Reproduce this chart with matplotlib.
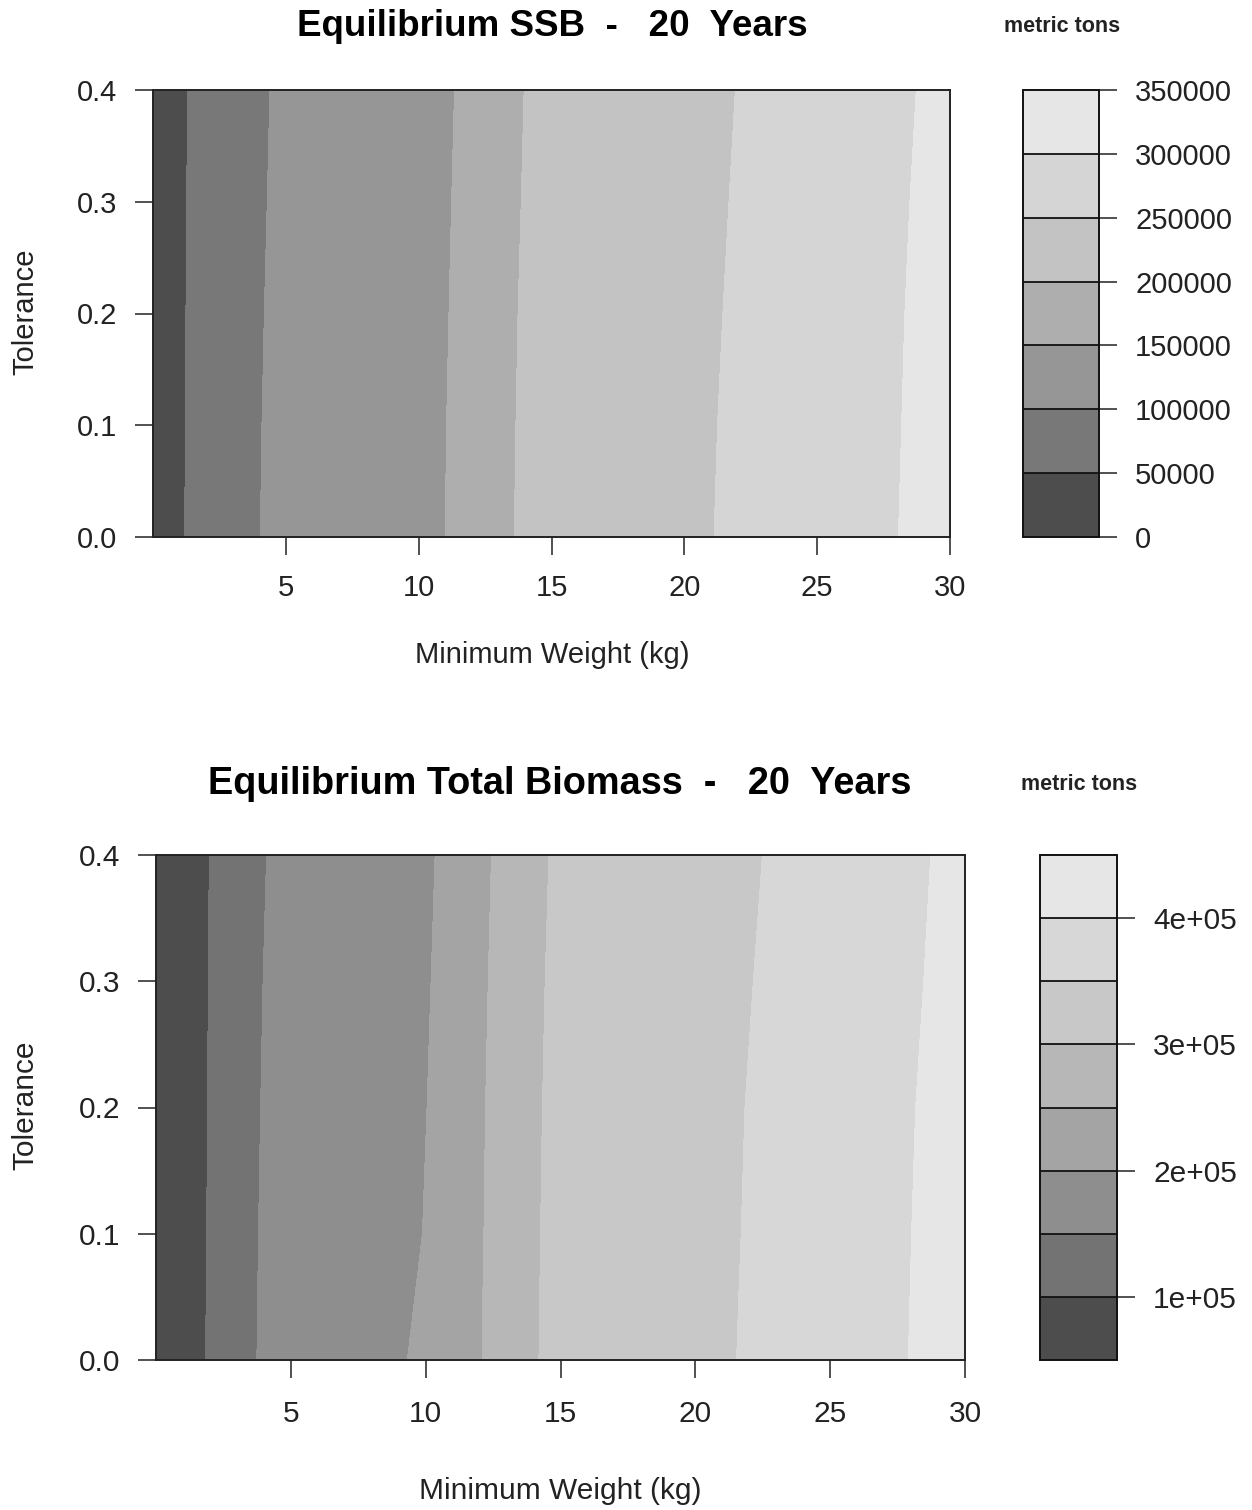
import numpy as np
import matplotlib
matplotlib.use("Agg")
import matplotlib.pyplot as plt
from matplotlib.ticker import FuncFormatter

plt.rcParams['font.family'] = ['Liberation Sans', 'DejaVu Sans']

W, H = 1252, 1510

# ---- data ----
# x position (kg) where each contour level is crossed, per tolerance row
tol_ssb = [0.0, 0.1, 0.2, 0.3, 0.4]
ssb_cross = [
    [1.20, 4.04, 11.00, 13.60, 21.12, 28.06],
    [1.21, 4.10, 11.05, 13.66, 21.25, 28.18],
    [1.24, 4.19, 11.14, 13.74, 21.45, 28.30],
    [1.27, 4.30, 11.24, 13.86, 21.68, 28.49],
    [1.30, 4.40, 11.35, 13.97, 21.92, 28.73],
]
ssb_levels = [0, 50000, 100000, 150000, 200000, 250000, 300000, 350000]
ssb_edge = [20000, 330000]
ssb_ticks = [0, 50000, 100000, 150000, 200000, 250000, 300000, 350000]
ssb_colors = ['#4d4d4d', '#787878', '#969696', '#aeaeae',
              '#c3c3c3', '#d5d5d5', '#e6e6e6']

tol_tb = [0.0, 0.05, 0.1, 0.2, 0.3, 0.4]
tb_cross = [
    [1.84, 3.74, 9.32, 12.09, 14.20, 21.53, 27.90],
    [1.86, 3.77, 9.60, 12.12, 14.23, 21.61, 27.96],
    [1.88, 3.80, 9.88, 12.16, 14.26, 21.70, 28.02],
    [1.91, 3.88, 10.05, 12.22, 14.33, 21.84, 28.17],
    [1.94, 3.97, 10.20, 12.32, 14.43, 22.15, 28.47],
    [1.975, 4.10, 10.35, 12.44, 14.57, 22.49, 28.73],
]
tb_levels = [50000, 100000, 150000, 200000, 250000, 300000, 350000, 400000, 450000]
tb_edge = [70000, 430000]
tb_ticks = [100000, 200000, 300000, 400000]
tb_colors = ['#4d4d4d', '#737373', '#8e8e8e', '#a4a4a4',
             '#b7b7b7', '#c8c8c8', '#d7d7d7', '#e6e6e6']

x_range = [0, 30]


def px_rect(l, t, r, b):
    return [l / W, 1 - b / H, (r - l) / W, (b - t) / H]


def build_grid(tols, cross, levels, edge):
    cross = np.asarray(cross, dtype=float)
    n = len(tols)
    X = np.column_stack([np.full(n, x_range[0]), cross, np.full(n, x_range[1])])
    Y = np.repeat(np.asarray(tols, dtype=float)[:, None], X.shape[1], axis=1)
    zrow = [edge[0]] + list(levels[1:1 + cross.shape[1]]) + [edge[1]]
    Z = np.tile(np.asarray(zrow, dtype=float), (n, 1))
    return X, Y, Z


def panel(fig, rect, crect, tols, cross, levels, edge, colors, ticks, fmt,
          title, tcx, tcy, mcx, ylab_y, xlab_y, xpad, fs, tfs):
    ax = fig.add_axes(px_rect(*rect))
    X, Y, Z = build_grid(tols, cross, levels, edge)
    cs = ax.contourf(X, Y, Z, levels=levels, colors=colors)
    ax.set_xlim(x_range)
    ax.set_ylim(0, 0.4)
    ax.set_xticks([5, 10, 15, 20, 25, 30])
    ax.set_yticks([0.0, 0.1, 0.2, 0.3, 0.4])
    ax.yaxis.set_major_formatter(FuncFormatter(lambda v, p: f"{v:.1f}"))
    ax.tick_params(axis='x', direction='out', length=13, width=1.1,
                   labelsize=fs, pad=xpad, colors='#222222')
    ax.tick_params(axis='y', direction='out', length=13, width=1.1,
                   labelsize=fs, pad=13, colors='#222222')
    for s in ax.spines.values():
        s.set_linewidth(1.4)
        s.set_color('#222222')

    cax = fig.add_axes(px_rect(*crect))
    cb = fig.colorbar(cs, cax=cax)
    cb.set_ticks(ticks)
    cb.ax.yaxis.set_major_formatter(FuncFormatter(fmt))
    for lv in levels[1:-1]:
        cax.axhline(lv, color='#111111', lw=1.3)
    cb.outline.set_linewidth(1.4)
    cb.outline.set_edgecolor('#111111')
    cax.tick_params(axis='y', right=True, left=False, direction='out',
                    length=13, width=1.1, labelsize=fs, pad=13,
                    colors='#222222')

    fig.text(tcx / W, 1 - tcy / H, title, ha='center', va='center',
             fontsize=tfs, fontweight='bold')
    fig.text(mcx / W, 1 - tcy / H, "metric tons", ha='center', va='center',
             fontsize=15.5, fontweight='bold', color='#222222')
    fig.text(25 / W, 1 - ylab_y / H, "Tolerance", ha='center', va='center',
             rotation=90, fontsize=fs, color='#222222')
    fig.text(tcx / W, 1 - xlab_y / H, "Minimum Weight (kg)", ha='center',
             va='center', fontsize=fs, color='#222222')
    return ax


fig = plt.figure(figsize=(W / 100, H / 100), dpi=100)

panel(fig, (153, 90, 950, 537), (1023, 90, 1099, 537),
      tol_ssb, ssb_cross, ssb_levels, ssb_edge, ssb_colors, ssb_ticks,
      lambda v, p: f"{int(round(v))}",
      "Equilibrium SSB  -   20  Years", 552, 27, 1062, 312, 655, 14, 21, 26.5)

panel(fig, (156, 855, 965, 1360), (1040, 855, 1117, 1360),
      tol_tb, tb_cross, tb_levels, tb_edge, tb_colors, tb_ticks,
      lambda v, p: f"{int(round(v / 1e5))}e+05",
      "Equilibrium Total Biomass  -   20  Years", 560, 784, 1079, 1105, 1491, 16, 21.5, 27.3)

fig.savefig("out.png", dpi=100)
